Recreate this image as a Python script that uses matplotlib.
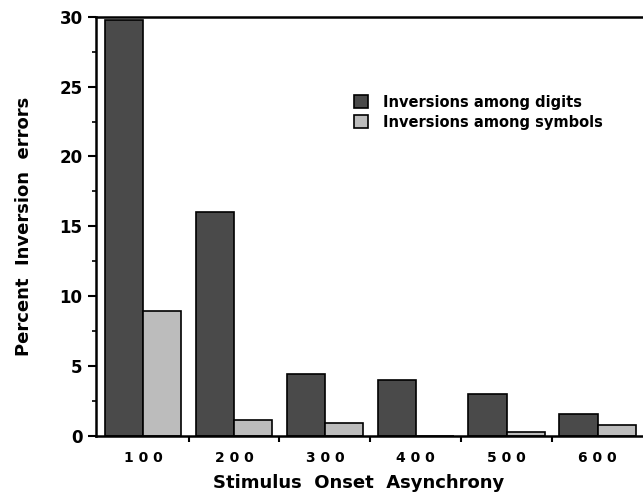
import matplotlib
matplotlib.use('Agg')
import matplotlib.pyplot as plt
import numpy as np
from matplotlib.ticker import MultipleLocator, FixedLocator

plt.rcParams['font.family'] = ['DejaVu Sans']
plt.rcParams['font.weight'] = 'bold'

soa = ['1 0 0', '2 0 0', '3 0 0', '4 0 0', '5 0 0', '6 0 0']
digits = [29.8, 16.0, 4.4, 4.0, 3.0, 1.55]
symbols = [8.9, 1.1, 0.9, 0.0, 0.3, 0.8]

fig = plt.figure(figsize=(6.43, 4.93), dpi=100)
ax = fig.add_axes([0.149, 0.116, 0.851, 0.85])

x = np.arange(len(soa))
w = 0.42
ax.bar(x - w / 2, digits, w, color='#4a4a4a', edgecolor='black', linewidth=1.2,
       label='Inversions among digits')
ax.bar(x + w / 2, symbols, w, color='#bcbcbc', edgecolor='black', linewidth=1.2,
       label='Inversions among symbols')

ax.set_xlim(-0.52, 5.5)
ax.set_ylim(0, 30)
ax.set_xticks(x)
ax.set_xticklabels(soa, fontsize=10, fontweight='bold')
ax.xaxis.set_minor_locator(FixedLocator(x[:-1] + 0.5))
ax.tick_params(axis='x', which='major', length=0, pad=11)
ax.tick_params(axis='x', which='minor', length=4, width=1.5, direction='out')

ax.yaxis.set_major_locator(MultipleLocator(5))
ax.yaxis.set_minor_locator(MultipleLocator(2.5))
ax.tick_params(axis='y', which='major', length=6, width=1.5, labelsize=12)
ax.tick_params(axis='y', which='minor', length=3, width=1.2)
for lab in ax.get_yticklabels():
    lab.set_fontweight('bold')

for s in ['left', 'bottom', 'top']:
    ax.spines[s].set_linewidth(1.8)
ax.spines['right'].set_visible(False)

ax.set_xlabel('Stimulus  Onset  Asynchrony', fontsize=13, fontweight='bold')
ax.xaxis.set_label_coords(0.48, -0.09)
ax.set_ylabel('Percent  Inversion  errors', fontsize=13, fontweight='bold')
ax.yaxis.set_label_coords(-0.115, 0.5)

leg = ax.legend(loc='upper left', bbox_to_anchor=(0.447, 0.845), frameon=False,
                fontsize=10.5, handlelength=1.0, handleheight=1.0,
                handletextpad=1.0, labelspacing=0.35)
for t in leg.get_texts():
    t.set_fontweight('bold')

fig.savefig('out.png', dpi=100, facecolor='white')
